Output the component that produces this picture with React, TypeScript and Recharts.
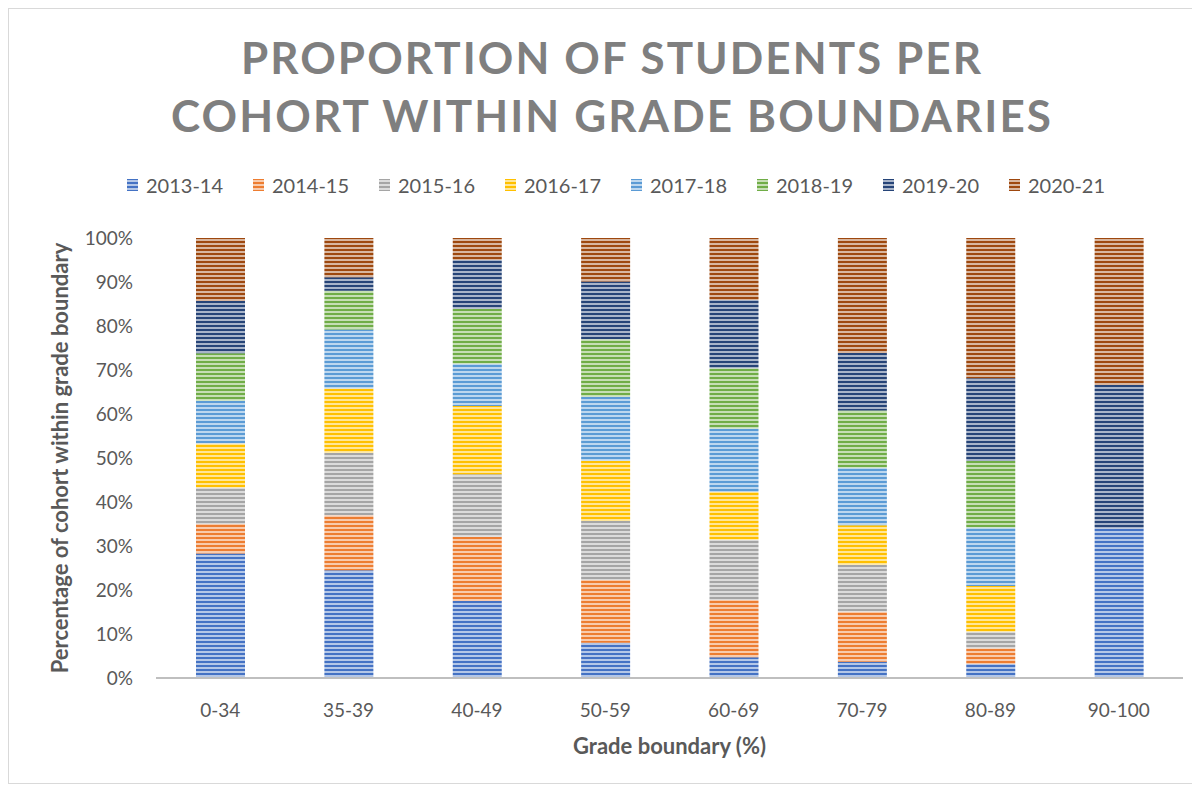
import { BarChart, Bar, XAxis, YAxis, Legend } from "recharts";

const grades = ["0-34", "35-39", "40-49", "50-59", "60-69", "70-79", "80-89", "90-100"];
const cohorts = ["2013-14", "2014-15", "2015-16", "2016-17", "2017-18", "2018-19", "2019-20", "2020-21"];

// percentage of each cohort per grade boundary
const c2013 = [28.3, 24.5, 17.5, 8.0, 4.7, 3.7, 3.2, 34.0];
const c2014 = [6.7, 12.5, 14.6, 14.3, 13.0, 11.4, 3.55, 0];
const c2015 = [8.3, 14.2, 14.2, 13.4, 13.7, 10.7, 3.75, 0];
const c2016 = [10.0, 14.6, 15.5, 13.7, 10.9, 9.0, 10.4, 0];
const c2017 = [9.7, 13.4, 9.6, 14.5, 14.4, 13.1, 13.3, 0];
const c2018 = [10.8, 8.8, 12.5, 13.1, 13.7, 13.0, 15.1, 0];
const c2019 = [11.9, 3.1, 11.1, 13.1, 15.5, 13.1, 18.8, 32.6];
const c2020 = [14.3, 8.9, 5.0, 9.9, 14.1, 26.2, 31.9, 33.4];

const yTicks = [0, 0.1, 0.2, 0.3, 0.4, 0.5, 0.6, 0.7, 0.8, 0.9, 1];

const COLORS = ["#4472C4", "#ED7D31", "#A5A5A5", "#FFC000", "#5B9BD5", "#70AD47", "#264478", "#9E480E"];
const FONT = "Lato, 'Open Sans', sans-serif";
const TEXT = "#595959";

const series = [c2013, c2014, c2015, c2016, c2017, c2018, c2019, c2020];
const data = grades.map((g, i) => {
  const row: any = { grade: g };
  cohorts.forEach((c, j) => (row[c] = series[j][i]));
  return row;
});

// mix a colour with white for the light stripe
function tint(hex: string, amt: number) {
  const n = parseInt(hex.slice(1), 16);
  const ch = [(n >> 16) & 255, (n >> 8) & 255, n & 255].map((v) => Math.round(v + (255 - v) * amt));
  return `rgb(${ch.join(",")})`;
}

function Patterns() {
  return (
    <svg width={0} height={0} style={{ position: "absolute" }}>
      <defs>
        {COLORS.map((c, i) => (
          <pattern key={i} id={`stripe-${i}`} patternUnits="userSpaceOnUse" width={8} height={4}>
            <rect x={0} y={0} width={8} height={4} fill={tint(c, 0.6)} />
            <rect x={0} y={0} width={8} height={2} fill={c} />
          </pattern>
        ))}
      </defs>
    </svg>
  );
}

function LegendRow() {
  return (
    <div style={{ display: "flex", fontFamily: FONT, fontSize: 20, color: TEXT }}>
      {cohorts.map((c, i) => (
        <div key={c} style={{ width: 126, display: "flex", alignItems: "center" }}>
          <svg width={14} height={14} style={{ marginRight: 5 }}>
            <rect x={0} y={1} width={11} height={12} fill={`url(#stripe-${i})`} />
          </svg>
          <span>{c}</span>
        </div>
      ))}
    </div>
  );
}

export default function App() {
  return (
    <div style={{ position: "relative", width: 1188, height: 776, border: "1px solid #D9D9D9", boxSizing: "border-box", background: "#fff" }}>
      <Patterns />
      <svg width={1186} height={150} style={{ position: "absolute", left: 0, top: 0 }}>
        <text x={602} y={65} textAnchor="middle" textLength={740} lengthAdjust="spacing"
          style={{ fontFamily: FONT, fontWeight: 700, fontSize: 44, fill: "#7F7F7F" }}>
          PROPORTION OF STUDENTS PER
        </text>
        <text x={602} y={123} textAnchor="middle" textLength={880} lengthAdjust="spacing"
          style={{ fontFamily: FONT, fontWeight: 700, fontSize: 44, fill: "#7F7F7F" }}>
          COHORT WITHIN GRADE BOUNDARIES
        </text>
      </svg>
      <BarChart width={1184} height={770} data={data} stackOffset="expand"
        margin={{ top: 229, right: 10, bottom: 0, left: 0 }}>
        <XAxis dataKey="grade" height={101} tickLine={false} tickMargin={20}
          axisLine={{ stroke: "#BFBFBF", strokeWidth: 2 }}
          tick={{ fill: TEXT, fontSize: 19, fontFamily: FONT }}
          label={{
            content: (p: any) => (
              <text x={p.viewBox.x + p.viewBox.width / 2} y={p.viewBox.y + 67} textAnchor="middle" dominantBaseline="central"
                style={{ fontFamily: FONT, fontSize: 22, fontWeight: 700, fill: TEXT }}>
                Grade boundary (%)
              </text>
            ),
          }} />
        <YAxis width={147} domain={[0, 1]} ticks={yTicks} tickLine={false} axisLine={false} tickMargin={17}
          tickFormatter={(v: number) => `${Math.round(v * 100)}%`}
          tick={{ fill: TEXT, fontSize: 19, fontFamily: FONT }}
          label={{
            content: (p: any) => {
              const cx = p.viewBox.x + 50;
              const cy = p.viewBox.y + p.viewBox.height / 2;
              return (
                <text x={cx} y={cy} textAnchor="middle" dominantBaseline="central" transform={`rotate(-90 ${cx} ${cy})`}
                  style={{ fontFamily: FONT, fontSize: 22, fontWeight: 700, fill: TEXT }}>
                  Percentage of cohort within grade boundary
                </text>
              );
            },
          }} />
        <Legend verticalAlign="middle" content={() => <LegendRow />}
          wrapperStyle={{ top: 164, left: 118, width: 1008 }} />
        {cohorts.map((c, i) => (
          <Bar key={c} dataKey={c} stackId="a" barSize={49} fill={`url(#stripe-${i})`} isAnimationActive={false} />
        ))}
      </BarChart>
    </div>
  );
}
